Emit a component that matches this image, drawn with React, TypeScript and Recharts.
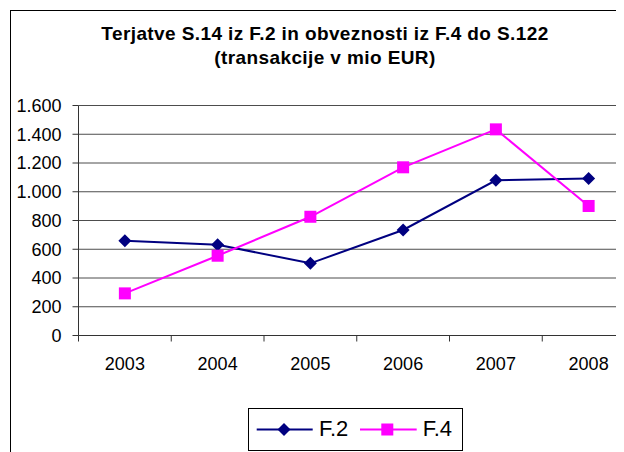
import React from 'react';
import { LineChart, Line, XAxis, YAxis, CartesianGrid } from 'recharts';

const years = ['2003', '2004', '2005', '2006', '2007', '2008'];
const f2Values = [659, 632, 502, 734, 1080, 1093];
const f4Values = [293, 555, 826, 1170, 1434, 901];
const yTicks = [0, 200, 400, 600, 800, 1000, 1200, 1400, 1600];
const titleLines = ['Terjatve S.14 iz F.2 in obveznosti iz F.4 do S.122', '(transakcije v mio EUR)'];
const seriesNames = ['F.2', 'F.4'];

const data = years.map((y, i) => ({ year: y, F2: f2Values[i], F4: f4Values[i] }));

const NAVY = '#000080';
const MAGENTA = '#FF00FF';
const FONT = '"Liberation Sans", Arial, sans-serif';

const fmt = (v: number) =>
  v >= 1000 ? `${Math.floor(v / 1000)}.${String(v % 1000).padStart(3, '0')}` : String(v);

const Diamond = (props: any) => {
  const { cx, cy, index } = props;
  if (cx == null || cy == null) return null;
  const r = 6.5;
  return (
    <polygon
      key={`d-${index}`}
      points={`${cx},${cy - r} ${cx + r},${cy} ${cx},${cy + r} ${cx - r},${cy}`}
      fill={NAVY}
    />
  );
};

const Square = (props: any) => {
  const { cx, cy, index } = props;
  if (cx == null || cy == null) return null;
  return <rect key={`s-${index}`} x={cx - 6} y={cy - 6} width={12} height={12} fill={MAGENTA} />;
};

const TICK_SIZE = 6;
const TICK_MARGIN = 16;

const XTick = (props: any) => {
  const { x, y, payload, width, index } = props;
  const half = width / years.length / 2;
  const axisY = y - TICK_SIZE - TICK_MARGIN;
  return (
    <g>
      <line x1={x - half} x2={x - half} y1={axisY} y2={axisY + TICK_SIZE} stroke="#333" strokeWidth={1} />
      {index === years.length - 1 && (
        <line x1={x + half} x2={x + half} y1={axisY} y2={axisY + TICK_SIZE} stroke="#333" strokeWidth={1} />
      )}
      <text x={x} y={y} dy="0.71em" textAnchor="middle" fontSize={18} fontFamily={FONT} fill="#000">
        {payload.value}
      </text>
    </g>
  );
};

export default function App() {
  return (
    <div style={{ position: 'relative', width: 616, height: 444, overflow: 'hidden', background: '#fff' }}>
      <div
        style={{
          position: 'absolute',
          left: 2,
          top: 2,
          width: 660,
          height: 480,
          border: '1px solid #000',
          boxSizing: 'border-box',
        }}
      />
      <div style={{ position: 'absolute', left: 0, top: 0 }}>
        <LineChart
          width={640}
          height={444}
          data={data}
          margin={{ top: 97.5, right: 13, bottom: 76.5, left: 0.5 }}
        >
          <CartesianGrid horizontal vertical={false} stroke="#4d4d4d" strokeWidth={1} />
          <XAxis
            dataKey="year"
            scale="band"
            height={40}
            axisLine={{ stroke: '#333', strokeWidth: 1 }}
            tickLine={false}
            tickSize={TICK_SIZE}
            tickMargin={TICK_MARGIN}
            tick={<XTick />}
            interval={0}
          />
          <YAxis
            width={70}
            domain={[0, 1600]}
            ticks={yTicks}
            tickFormatter={fmt}
            axisLine={{ stroke: '#333', strokeWidth: 1 }}
            tickLine={{ stroke: '#333', strokeWidth: 1 }}
            tickSize={6}
            tickMargin={11}
            tick={{ fontSize: 18, fontFamily: FONT, fill: '#000' }}
            interval={0}
          />
          <Line
            type="linear"
            dataKey="F2"
            name={seriesNames[0]}
            stroke={NAVY}
            strokeWidth={2}
            dot={Diamond}
            activeDot={false}
            isAnimationActive={false}
          />
          <Line
            type="linear"
            dataKey="F4"
            name={seriesNames[1]}
            stroke={MAGENTA}
            strokeWidth={2}
            dot={Square}
            activeDot={false}
            isAnimationActive={false}
          />
        </LineChart>
      </div>
      <svg
        width={616}
        height={100}
        style={{ position: 'absolute', left: 0, top: 0, pointerEvents: 'none' }}
      >
        {titleLines.map((t, i) => (
          <text
            key={i}
            x={317}
            y={31.5 + i * 24.5}
            textAnchor="middle"
            fontFamily={FONT}
            fontWeight="bold"
            fontSize={19}
            letterSpacing={0.4}
            fill="#000"
          >
            {t}
          </text>
        ))}
      </svg>
      <div
        style={{
          position: 'absolute',
          left: 240,
          top: 400,
          width: 215,
          height: 43,
          border: '1px solid #000',
          boxSizing: 'border-box',
          background: '#fff',
        }}
      >
        <svg width={213} height={41} style={{ display: 'block' }}>
          <line x1={7.7} x2={63.7} y1={20.5} y2={20.5} stroke={NAVY} strokeWidth={2} />
          <polygon points="35,14 41.5,20.5 35,27 28.5,20.5" fill={NAVY} />
          <text x={70} y={26.5} fontSize={22} fontFamily={FONT} fill="#000">
            {seriesNames[0]}
          </text>
          <line x1={111} x2={167.7} y1={20.5} y2={20.5} stroke={MAGENTA} strokeWidth={2} />
          <rect x={132.3} y={14.5} width={12} height={12} fill={MAGENTA} />
          <text x={173.7} y={26.5} fontSize={22} fontFamily={FONT} fill="#000">
            {seriesNames[1]}
          </text>
        </svg>
      </div>
    </div>
  );
}
